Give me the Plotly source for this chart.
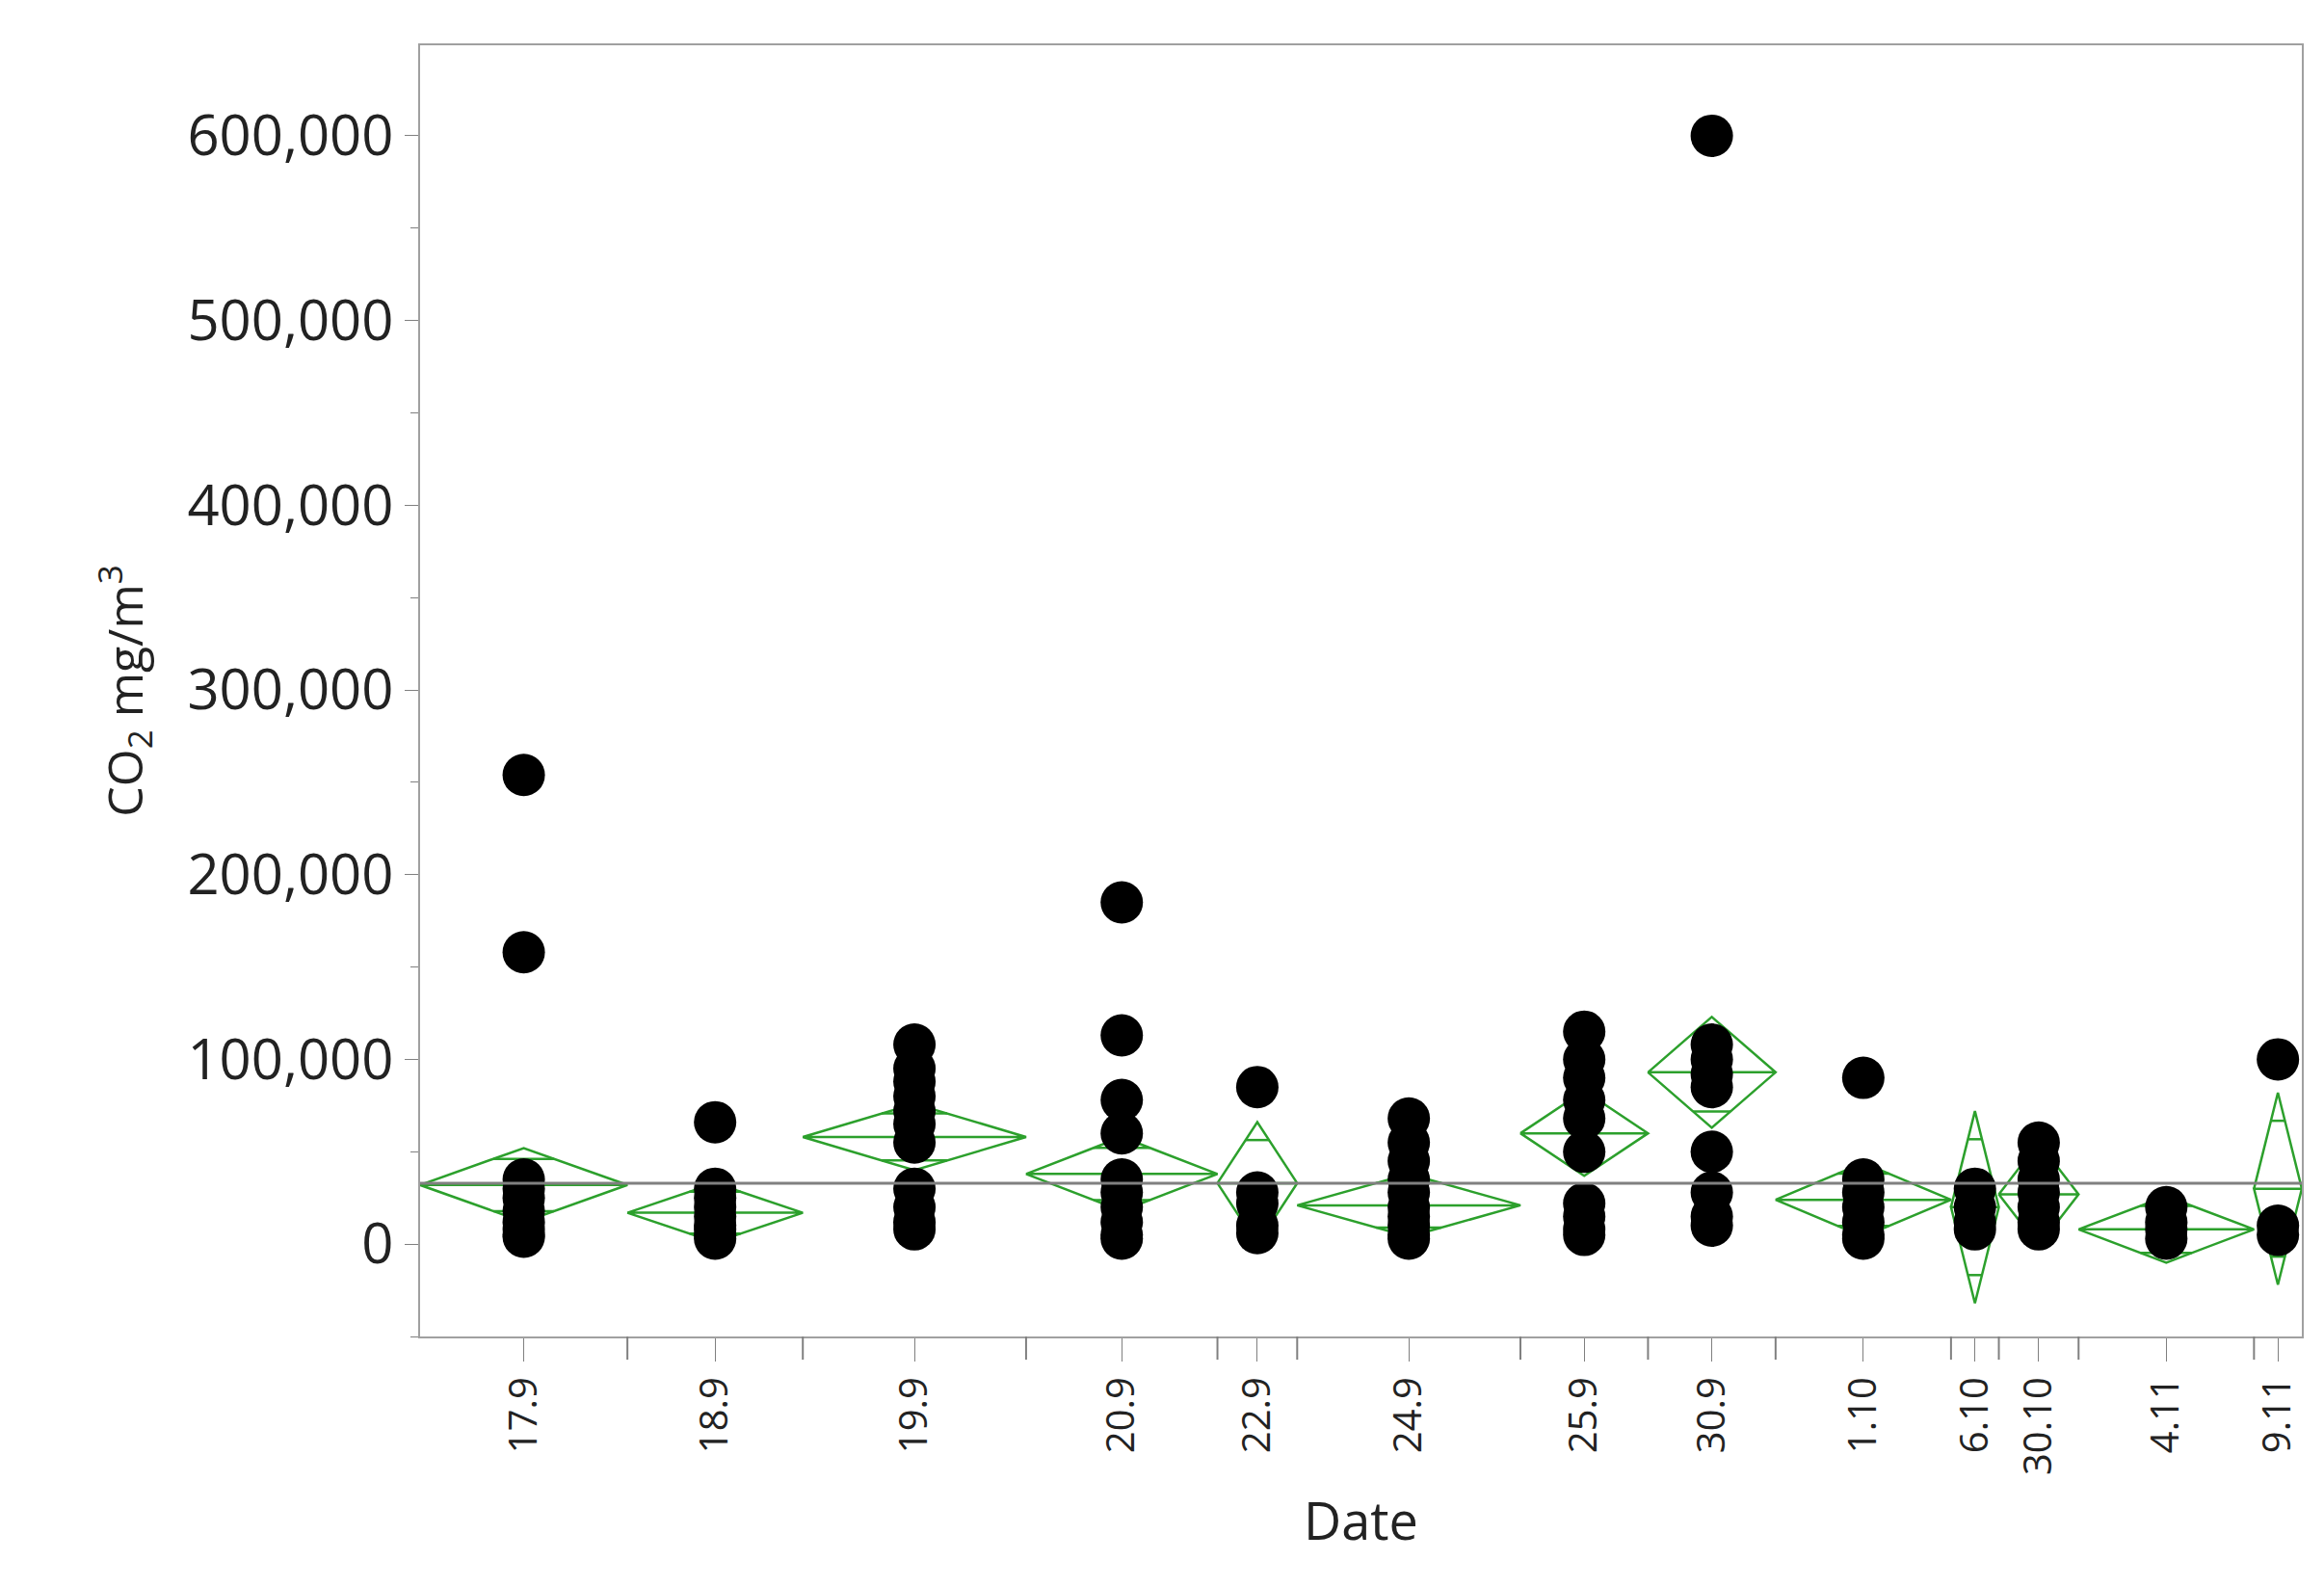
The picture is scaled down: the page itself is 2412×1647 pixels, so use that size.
import plotly.graph_objects as go

dates = ["17.9", "18.9", "19.9", "20.9", "22.9", "24.9", "25.9", "30.9", "1.10", "6.10", "30.10", "4.11", "9.11"]
group_n = [13, 11, 14, 12, 5, 14, 8, 8, 11, 3, 5, 11, 3]
means = [32000, 17000, 58000, 38000, 33000, 21000, 60000, 93000, 24000, 20000, 27000, 8000, 30000]
ci_half = [20000, 16000, 18000, 20000, 33000, 17000, 23000, 30000, 20000, 52000, 28000, 18000, 52000]
grand_mean = 33000
points = [
    [254000, 158000, 35000, 30000, 25000, 18000, 12000, 8000, 5000, 4000],
    [66000, 30000, 25000, 20000, 15000, 10000, 8000, 5000, 3000],
    [108000, 95000, 88000, 80000, 72000, 65000, 55000, 30000, 20000, 12000, 8000],
    [185000, 113000, 78000, 60000, 35000, 28000, 20000, 12000, 5000, 3000],
    [85000, 28000, 22000, 10000, 6000],
    [68000, 55000, 45000, 35000, 28000, 20000, 15000, 10000, 5000, 3000],
    [115000, 100000, 90000, 78000, 68000, 50000, 22000, 15000, 8000, 5000],
    [600000, 108000, 100000, 92000, 85000, 50000, 28000, 15000, 10000],
    [90000, 35000, 28000, 20000, 12000, 5000, 3000],
    [30000, 20000, 12000, 8000],
    [55000, 45000, 35000, 28000, 20000, 12000, 8000],
    [20000, 12000, 8000, 3000],
    [100000, 10000, 5000],
]

# group boundaries from counts
edges = [0]
for n in group_n:
    edges.append(edges[-1] + n)
centers = [(edges[i] + edges[i + 1]) / 2 for i in range(len(dates))]

fig = go.Figure()
green = "#2ca02c"
for i in range(len(dates)):
    x0, x1, c = edges[i], edges[i + 1], centers[i]
    m, h = means[i], ci_half[i]
    fig.add_trace(go.Scatter(
        x=[x0, c, x1, c, x0, x1], y=[m, m + h, m, m - h, m, m],
        mode="lines", line=dict(color=green, width=2.5), hoverinfo="skip", showlegend=False))
    # overlap marks, inside the diamond
    o = h / 2 ** 0.5
    half_w = (1 - o / h) * (x1 - x0) / 2
    for yy in (m + o, m - o):
        fig.add_trace(go.Scatter(
            x=[c - half_w, c + half_w], y=[yy, yy],
            mode="lines", line=dict(color=green, width=2.5), hoverinfo="skip", showlegend=False))

fig.add_hline(y=grand_mean, line=dict(color="#808080", width=3))

for i in range(len(dates)):
    fig.add_trace(go.Scatter(
        x=[centers[i]] * len(points[i]), y=points[i], mode="markers",
        marker=dict(color="black", size=44), showlegend=False))

for e in edges[1:-1]:
    fig.add_shape(type="line", x0=e, x1=e, y0=0, y1=-0.018, xref="x", yref="paper",
                  line=dict(color="#808080", width=2))

fig.update_layout(
    width=2412, height=1647,
    margin=dict(l=428, r=31, t=39, b=268),
    plot_bgcolor="white", paper_bgcolor="white",
    font=dict(family="Open Sans", color="#222222"),
)
fig.update_xaxes(
    range=[edges[0], edges[-1]], tickvals=centers, ticktext=dates, tickangle=-90,
    tickfont=dict(size=40), ticks="outside", ticklen=24, tickcolor="#808080",
    showgrid=False, zeroline=False, mirror=True, showline=True, linecolor="#a0a0a0", linewidth=2,
    title=dict(text="Date", font=dict(size=54), standoff=30),
)
fig.update_yaxes(
    range=[-50000, 649000], tickvals=[0, 100000, 200000, 300000, 400000, 500000, 600000],
    tickformat=",d", tickfont=dict(size=58), ticks="outside", ticklen=14, tickcolor="#808080",
    minor=dict(dtick=50000, tick0=0, ticks="outside", ticklen=8, tickcolor="#808080"),
    showgrid=False, zeroline=False, mirror=True, showline=True, linecolor="#a0a0a0", linewidth=2,
    title=dict(text="CO<sub>2</sub> mg/m<sup>3</sup>", font=dict(size=50), standoff=30),
)

fig.write_html("out.html")
